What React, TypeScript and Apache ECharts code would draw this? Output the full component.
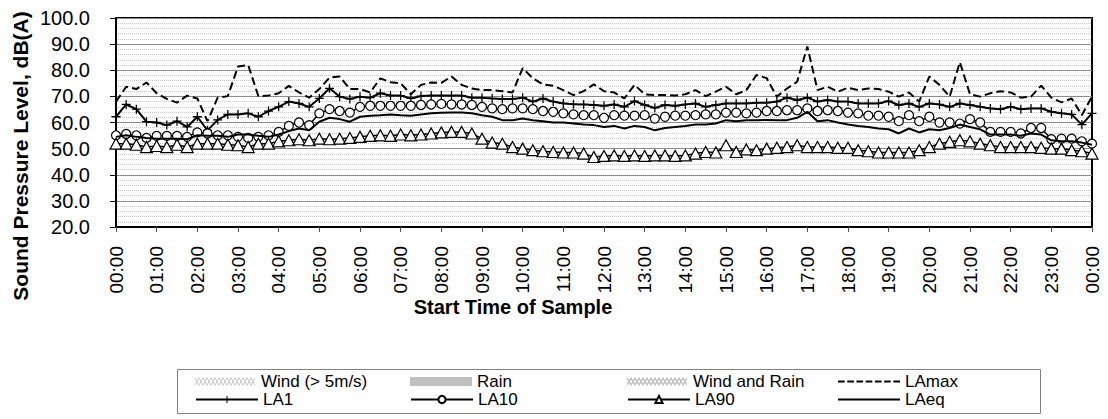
import React, { useEffect, useRef } from "react";
import * as echarts from "echarts";

const times = [
  "00:00","00:15","00:30","00:45","01:00","01:15","01:30","01:45",
  "02:00","02:15","02:30","02:45","03:00","03:15","03:30","03:45",
  "04:00","04:15","04:30","04:45","05:00","05:15","05:30","05:45",
  "06:00","06:15","06:30","06:45","07:00","07:15","07:30","07:45",
  "08:00","08:15","08:30","08:45","09:00","09:15","09:30","09:45",
  "10:00","10:15","10:30","10:45","11:00","11:15","11:30","11:45",
  "12:00","12:15","12:30","12:45","13:00","13:15","13:30","13:45",
  "14:00","14:15","14:30","14:45","15:00","15:15","15:30","15:45",
  "16:00","16:15","16:30","16:45","17:00","17:15","17:30","17:45",
  "18:00","18:15","18:30","18:45","19:00","19:15","19:30","19:45",
  "20:00","20:15","20:30","20:45","21:00","21:15","21:30","21:45",
  "22:00","22:15","22:30","22:45","23:00","23:15","23:30","23:45",
  "00:00"
];

const laMax = [
  68, 73.7, 72.8, 75.3, 71.2, 69, 67.6, 70.3, 69.2, 60.5,
  69.5, 70.1, 81.4, 82, 70.1, 70.3, 71.2, 74, 71.5, 69.5,
  72.8, 77.2, 77.6, 72.8, 72.8, 71.5, 76.9, 75.4, 75, 70.8,
  74.4, 75.3, 75.2, 77.6, 74.4, 73, 72.4, 72.4, 72, 71.5,
  80.8, 76.9, 74.6, 74.1, 72.4, 70.5, 72, 74.6, 72, 71.5,
  69.2, 74.4, 70.8, 70.5, 70.5, 70.3, 70.8, 72.4, 70.1, 71.8,
  73.7, 70.8, 72.4, 78.2, 77, 69.9, 73, 75.6, 89.1, 72.4,
  73.7, 71.8, 73.3, 72.4, 73, 72.8, 71.8, 69.9, 71.5, 68,
  77.6, 74.4, 69.9, 83.1, 70.8, 69.9, 71.2, 72, 71.5, 69.5,
  69.9, 74.1, 69.5, 67.7, 69.2, 62.8, 69.9
];

const la1 = [
  62.2, 66.9, 65.1, 60.3, 60, 59, 60.5, 58.3, 62.2, 57,
  61, 63.1, 63.1, 63.5, 62.2, 64.4, 66, 68, 67.3, 66,
  69.2, 73.1, 69.9, 69, 69.9, 69.5, 71.2, 70.3, 70.3, 69.2,
  70.1, 70.3, 70.3, 70.3, 70.3, 69.5, 69.5, 69.2, 69, 69,
  69.5, 68, 69.2, 68, 67.3, 67, 66.9, 66.7, 66.4, 66.9,
  66, 68.2, 66.7, 65.6, 66.7, 66.4, 66.9, 67.3, 66, 66.7,
  67.3, 67.3, 67.3, 67.6, 67.6, 68, 69.5, 68.6, 69.5, 68,
  68.6, 68, 68, 67.3, 67.3, 67.3, 68.2, 66.7, 67.3, 66,
  67.3, 66.9, 66, 67.3, 66.7, 66, 65.4, 65.1, 66, 65.1,
  65.4, 65.4, 64.1, 63.5, 63.1, 59.2, 63.5
];

const la10 = [
  55.1, 55.6, 55.1, 54.1, 54.9, 54.9, 54.9, 54.5, 56.2, 55.8,
  55.1, 55.1, 54.5, 54.1, 54.5, 55.1, 56.4, 58.7, 60, 59,
  63.5, 65.1, 64.4, 63.8, 66, 66.4, 66.4, 66.4, 66.4, 66.4,
  66.7, 66.9, 67.1, 66.9, 66.9, 66.7, 66, 65.4, 65.1, 65.4,
  65.4, 65.1, 64.4, 64.1, 63.5, 63.1, 62.8, 62.8, 61.8, 62.8,
  62.6, 62.6, 62.8, 61.5, 62.2, 62.6, 62.6, 62.8, 63.1, 63.1,
  63.8, 63.8, 63.5, 63.8, 64.4, 64.4, 64.7, 64.7, 65.4, 64.4,
  64.7, 64.4, 63.8, 63.5, 62.6, 62.6, 62.2, 60.5, 62.8, 60.5,
  62.2, 60, 60, 59.6, 61.3, 60, 56.4, 56.4, 56.4, 55.8,
  57.9, 57.9, 53.6, 53.8, 53.8, 52.8, 51.9
];

const laEq = [
  54.5, 55.1, 54.5, 54.1, 53.8, 53.8, 53.8, 53.6, 55.1, 54.9,
  54.9, 54.5, 55.4, 55.4, 54.9, 54.5, 55.4, 56.7, 57.7, 57,
  60.3, 61.8, 61.3, 60.3, 62.2, 62.6, 62.8, 63.1, 62.8, 62.6,
  63.1, 63.5, 63.7, 63.8, 63.8, 63.5, 62.8, 62.2, 60.9, 60.9,
  61.5, 60.9, 60.5, 60, 60, 59.6, 59.2, 59, 58.3, 58.7,
  57.7, 58.7, 58.3, 57, 57.9, 58.3, 58.7, 59.2, 59.2, 59.6,
  60.9, 60.5, 60.9, 60.9, 61, 60.9, 60.9, 61.8, 64.1, 60.5,
  60.9, 60, 59.2, 58.7, 58.3, 57.7, 57.4, 55.8, 57.7, 56.2,
  57.4, 57, 57.9, 59.2, 58.3, 57.4, 55.4, 55.4, 55.4, 54.9,
  55.8, 55.4, 53.2, 52.8, 52.8, 52.3, 51.5
];

const la90 = [
  51.9, 51.9, 51.5, 50.6, 51, 50.6, 51.5, 50.6, 51.9, 51.9,
  51.9, 51.5, 51.3, 50.6, 51.9, 51.9, 52.8, 53.2, 53.6, 53.2,
  53.8, 53.6, 53.8, 54.1, 54.5, 54.9, 55.1, 54.9, 55.4, 55.1,
  55.4, 55.8, 56.2, 56.4, 56.4, 55.8, 53.8, 52.3, 51.9, 50.6,
  50, 49.4, 49, 48.7, 48.5, 48.5, 48.1, 46.8, 47.2, 47.4,
  47.2, 47.4, 47.2, 47.4, 47.4, 47.2, 47.4, 48.1, 48.7, 48.5,
  51.3, 48.7, 49.7, 49.4, 50, 50.3, 50.6, 51.3, 50.6, 50.6,
  50.6, 50.3, 50.3, 49.4, 49, 48.5, 48.5, 48.5, 48.5, 49.4,
  50.6, 51.9, 52.6, 53.2, 52.8, 51.9, 51.3, 50.6, 50.6, 50.6,
  50.6, 50.3, 50, 50, 49.4, 49, 48.1
];

const yMin = 20;
const yMax = 100;
const yStep = 10;

const FONT = "Arial, 'Liberation Sans', sans-serif";

const PLUS = "path://M4.3,0H5.7V4.3H10V5.7H5.7V10H4.3V5.7H0V4.3H4.3Z";

function zigzagBand(w: number, h: number, period: number, t: number, startHigh: boolean) {
  const top: [number, number][] = [];
  let k = 0;
  for (let x = 0; x <= w + 0.001; x += period / 2, k++) {
    const high = (k % 2 === 0) === startHigh;
    top.push([x, high ? 0 : h - t]);
  }
  let d = "M" + top.map((p) => p[0] + "," + p[1]).join("L");
  const bottom = top.slice().reverse();
  d += "L" + bottom.map((p) => p[0] + "," + (p[1] + t)).join("L") + "Z";
  return d;
}

function dashIcon(w: number, h: number, dash: number, gap: number, t: number) {
  let d = "";
  const y = (h - t) / 2;
  for (let x = 0; x < w; x += dash + gap) {
    const e = Math.min(w, x + dash);
    d += `M${x},${y}H${e}V${y + t}H${x}Z`;
  }
  return "path://" + d;
}

const windIcon = "path://" + zigzagBand(62, 9, 8, 1.4, true) + zigzagBand(62, 9, 8, 1.4, false);
const windRainIcon = "path://" + zigzagBand(62, 9, 8, 2.4, true) + zigzagBand(62, 9, 8, 2.4, false);
const solidIcon = "path://M0,3.5H62V5.5H0Z";
const dashedIcon = dashIcon(62, 9, 6.5, 2.5, 2);

function legendItem(name: string, left: number, top: number, icon?: string) {
  const item: any = { name };
  if (icon) item.icon = icon;
  return {
    data: [item],
    left,
    top,
    padding: 0,
    itemGap: 0,
    itemWidth: 62,
    itemHeight: 9,
    selectedMode: false,
    textStyle: { fontSize: 17, color: "#000", fontFamily: FONT },
  };
}

export default function App() {
  const ref = useRef<HTMLDivElement>(null);

  useEffect(() => {
    if (!ref.current) return;
    const chart = echarts.init(ref.current, null, { renderer: "svg" });
    const row1 = 373;
    const row2 = 391;
    const option: any = {
      animation: false,
      backgroundColor: "#fff",
      grid: {
        left: 116,
        right: 16,
        top: 18,
        bottom: 192,
        show: true,
        borderColor: "#000",
        borderWidth: 2,
        backgroundColor: "#fff",
      },
      xAxis: {
        type: "category",
        data: times,
        boundaryGap: false,
        axisLine: { lineStyle: { color: "#000", width: 2 } },
        axisTick: { interval: 3, length: 5, lineStyle: { color: "#555", width: 1 } },
        axisLabel: {
          interval: 3,
          rotate: 90,
          margin: 19,
          fontSize: 19,
          color: "#000",
          fontFamily: FONT,
        },
        splitLine: { show: false },
      },
      yAxis: {
        type: "value",
        min: yMin,
        max: yMax,
        interval: yStep,
        axisLine: { show: true, lineStyle: { color: "#000", width: 2 } },
        axisTick: { show: true, length: 6, lineStyle: { color: "#000", width: 1 } },
        axisLabel: {
          margin: 26,
          fontSize: 20,
          color: "#000",
          fontFamily: FONT,
          formatter: (v: number) => v.toFixed(1),
        },
        splitLine: { show: true, lineStyle: { color: "#8c8c8c", width: 1 } },
        minorTick: { show: false, splitNumber: 5 },
        minorSplitLine: { show: true, lineStyle: { color: "#c8c8c8", width: 1, type: "dotted" } },
      },
      legend: [
        legendItem("Wind (> 5m/s)", 195, row1, windIcon),
        legendItem("Rain", 410, row1, "rect"),
        legendItem("Wind and Rain", 627, row1, windRainIcon),
        legendItem("LAmax", 838, row1, dashedIcon),
        legendItem("LA1", 195, row2),
        legendItem("LA10", 410, row2),
        legendItem("LA90", 627, row2),
        legendItem("LAeq", 838, row2, solidIcon),
      ],
      graphic: [
        {
          type: "rect",
          left: 175,
          top: 367,
          shape: { width: 863, height: 44 },
          style: { fill: "none", stroke: "#808080", lineWidth: 1 },
          silent: true,
          z: -1,
        },
        {
          type: "text",
          x: 20,
          y: 156,
          rotation: Math.PI / 2,
          style: {
            text: "Sound Pressure Level, dB(A)",
            font: `bold 21px ${FONT}`,
            fill: "#000",
            align: "center",
            verticalAlign: "middle",
          },
        },
        {
          type: "text",
          x: 513,
          y: 307,
          style: {
            text: "Start Time of Sample",
            font: `bold 20px ${FONT}`,
            fill: "#000",
            align: "center",
            verticalAlign: "middle",
          },
        },
      ],
      series: [
        {
          name: "Wind (> 5m/s)",
          type: "line",
          data: [],
          itemStyle: { color: "#bdbdbd" },
        },
        {
          name: "Rain",
          type: "line",
          data: [],
          itemStyle: { color: "#c0c0c0" },
        },
        {
          name: "Wind and Rain",
          type: "line",
          data: [],
          itemStyle: { color: "#bcbcbc" },
        },
        {
          name: "LAmax",
          type: "line",
          data: laMax,
          symbol: "none",
          itemStyle: { color: "#000" },
          lineStyle: { color: "#000", width: 2, type: [8, 4] },
          z: 2,
        },
        {
          name: "LA1",
          type: "line",
          data: la1,
          symbol: PLUS,
          symbolSize: 9,
          showAllSymbol: true,
          itemStyle: { color: "#000" },
          lineStyle: { color: "#000", width: 2 },
          z: 3,
        },
        {
          name: "LA10",
          type: "line",
          data: la10,
          symbol: "circle",
          symbolSize: 9,
          showAllSymbol: true,
          itemStyle: { color: "#fff", borderColor: "#000", borderWidth: 1.2 },
          lineStyle: { color: "#000", width: 1.5 },
          z: 4,
        },
        {
          name: "LAeq",
          type: "line",
          data: laEq,
          symbol: "none",
          itemStyle: { color: "#000" },
          lineStyle: { color: "#000", width: 2 },
          z: 5,
        },
        {
          name: "LA90",
          type: "line",
          data: la90,
          symbol: "triangle",
          symbolSize: [12, 11],
          showAllSymbol: true,
          itemStyle: { color: "#fff", borderColor: "#000", borderWidth: 1.2 },
          lineStyle: { color: "#000", width: 1.5 },
          z: 6,
        },
      ],
    };
    chart.setOption(option);
    return () => chart.dispose();
  }, []);

  return (
    <div
      ref={ref}
      style={{ position: "fixed", left: 0, top: 0, width: 1108, height: 419, background: "#fff" }}
    />
  );
}
